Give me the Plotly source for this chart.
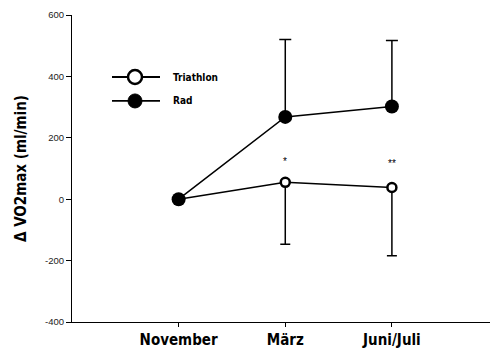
import plotly.graph_objects as go

# Measurement time points
months = ["November", "März", "Juni/Juli"]

# Change in VO2max (ml/min) and the one-sided SD bars
triathlon = [0, 55, 38]
triathlon_sd = [0, 202, 222]
rad = [0, 268, 302]
rad_sd = [0, 252, 215]

# Significance markers above the triathlon group
sig_labels = ["", "*", "**"]
sig_y = [None, 122, 115]

y_ticks = [-400, -200, 0, 200, 400, 600]
y_tick_text = ["-400", "-200", "0", "200", "400", "600"]

cond_bold = "DejaVu Sans Condensed, Liberation Sans Narrow, sans-serif"

fig = go.Figure()

fig.add_trace(go.Scatter(
    x=months, y=triathlon, mode="lines+markers", name="Triathlon",
    line=dict(color="black", width=1.5),
    marker=dict(symbol="circle", size=9, color="white",
                line=dict(color="black", width=2.5)),
    error_y=dict(type="data", array=[0, 0, 0], arrayminus=triathlon_sd,
                 symmetric=False, color="black", thickness=1.5, width=5),
    showlegend=False,
))

fig.add_trace(go.Scatter(
    x=months, y=rad, mode="lines+markers", name="Rad",
    line=dict(color="black", width=1.5),
    marker=dict(symbol="circle", size=14, color="black"),
    error_y=dict(type="data", array=rad_sd, arrayminus=[0, 0, 0],
                 symmetric=False, color="black", thickness=1.5, width=6),
    showlegend=False,
))

# asterisks
for m, lab, yy in zip(months, sig_labels, sig_y):
    if lab:
        fig.add_annotation(x=m, y=yy, text=lab, showarrow=False,
                           font=dict(family="Arial, sans-serif", size=10, color="black"))

# hand-drawn legend (line segment + marker + label)
legend_items = [("Triathlon", 0.798, False), ("Rad", 0.72, True)]
x0_leg, x1_leg, xm_leg = 112, 160, 135
for label, yp, filled in legend_items:
    fig.add_shape(type="line", xref="paper", yref="paper",
                  x0=(x0_leg - 72) / 418, x1=(x1_leg - 72) / 418, y0=yp, y1=yp,
                  line=dict(color="black", width=1.8))
    fig.add_shape(type="circle", xref="paper", yref="paper",
                  xsizemode="pixel", ysizemode="pixel",
                  xanchor=(xm_leg - 72) / 418, yanchor=yp,
                  x0=-7, x1=7, y0=-7, y1=7,
                  fillcolor="black" if filled else "white",
                  line=dict(color="black", width=2.5 if not filled else 1))
    fig.add_annotation(xref="paper", yref="paper", x=(171 - 72) / 418, y=yp,
                       xanchor="left", yanchor="middle", text=f"<b>{label}</b>",
                       showarrow=False,
                       font=dict(family=cond_bold, size=10, color="black"))

fig.update_xaxes(
    type="category", range=[-1, 2.92],
    showline=True, linecolor="black", linewidth=1.2,
    ticks="outside", ticklen=4, tickcolor="black", tickwidth=1.2,
    showgrid=False, zeroline=False,
    tickfont=dict(family=cond_bold, size=15, color="black"),
    ticktext=[f"<b>{m}</b>" for m in months], tickvals=months,
)
fig.update_yaxes(
    range=[-400, 600], tickvals=y_ticks, ticktext=y_tick_text,
    showline=True, linecolor="black", linewidth=1.2,
    ticks="outside", ticklen=5, tickcolor="black", tickwidth=1.2,
    showgrid=False, zeroline=False,
    tickfont=dict(family="Arial, Liberation Sans, sans-serif", size=9.5, color="#222"),
    title=dict(text="<b>Δ VO2max (ml/min)</b>", standoff=14,
               font=dict(family=cond_bold, size=15, color="black")),
)

fig.update_layout(
    width=490, height=351,
    margin=dict(l=72, r=0, t=15, b=29),
    paper_bgcolor="white", plot_bgcolor="white",
)

fig.write_html("out.html")
